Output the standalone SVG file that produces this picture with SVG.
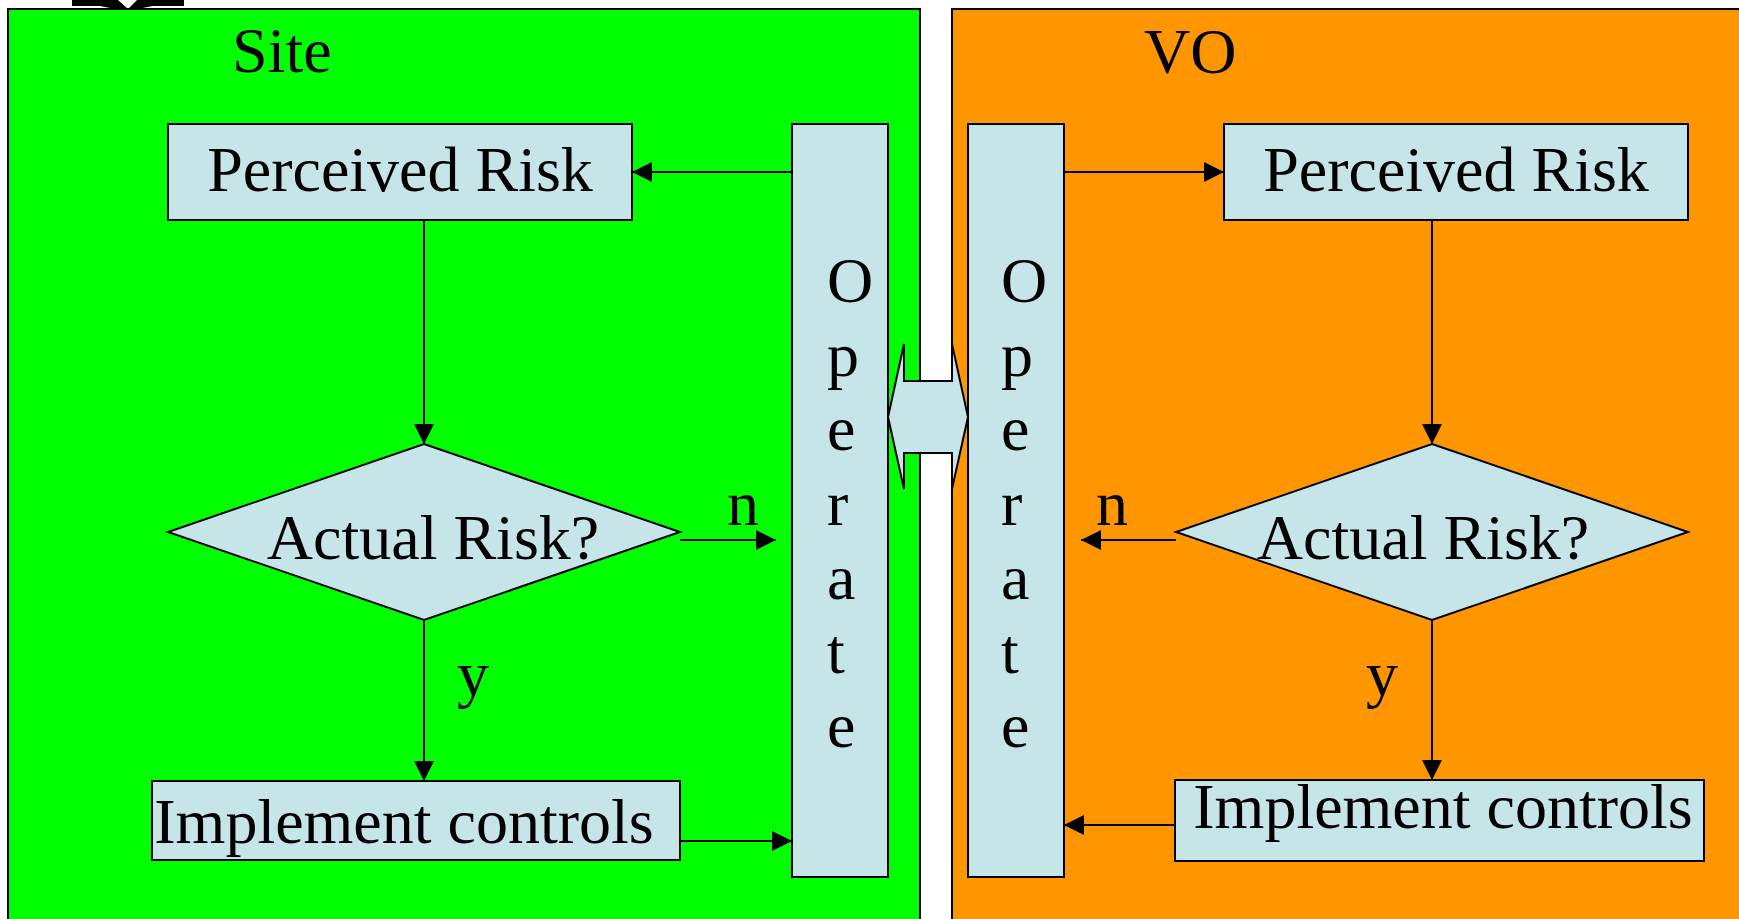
<svg xmlns="http://www.w3.org/2000/svg" width="1739" height="919" viewBox="0 0 1739 919">
<defs>
<marker id="ah" viewBox="0 0 20 20" refX="20" refY="10" markerWidth="20" markerHeight="20" markerUnits="userSpaceOnUse" orient="auto">
<path d="M0,0 L20,10 L0,20 Z" fill="#000"/>
</marker>
<style>
.t{font-family:"Liberation Serif","Times New Roman",serif;font-size:64px;fill:#000}
.box{fill:#C6E5E9;stroke:#000;stroke-width:2}
.panel{stroke:#000;stroke-width:2}
.c{stroke:#000;stroke-width:2;fill:none;marker-end:url(#ah)}
</style>
</defs>
<rect width="1739" height="919" fill="#fff"/>
<path d="M72,0 L184,0 L184,6 L153,6 L137,9 L128,9 L137,0 L118,0 L128,9 L115,9 L100,6 L72,6 Z" fill="#000"/>
<g id="site-panel">
<rect class="panel" x="8" y="9" width="912" height="930" fill="#00FF00"/>
<text class="t" x="232" y="72">Site</text>
</g>
<g id="vo-panel">
<rect class="panel" x="952" y="9" width="800" height="930" fill="#FF9600"/>
<text class="t" x="1144" y="73">VO</text>
</g>
<g id="site-perceived">
<rect class="box" x="168" y="124" width="464" height="96"/>
<text class="t" x="400" y="191" text-anchor="middle">Perceived Risk</text>
</g>
<g id="site-actual">
<polygon class="box" points="424,444 680,532 424,620 168,532"/>
<text class="t" x="433" y="559" text-anchor="middle">Actual Risk?</text>
</g>
<g id="site-implement">
<rect class="box" x="152" y="781" width="528" height="79"/>
<text class="t" x="404" y="843" text-anchor="middle">Implement controls</text>
</g>
<g id="site-operate">
<rect class="box" x="792" y="124" width="96" height="753"/>
<text class="t" x="827" y="302">O</text>
<text class="t" x="827" y="376">p</text>
<text class="t" x="827" y="450">e</text>
<text class="t" x="827" y="525">r</text>
<text class="t" x="827" y="599">a</text>
<text class="t" x="827" y="673">t</text>
<text class="t" x="827" y="747">e</text>
</g>
<g id="vo-operate">
<rect class="box" x="968" y="124" width="96" height="753"/>
<text class="t" x="1001" y="302">O</text>
<text class="t" x="1001" y="376">p</text>
<text class="t" x="1001" y="450">e</text>
<text class="t" x="1001" y="525">r</text>
<text class="t" x="1001" y="599">a</text>
<text class="t" x="1001" y="673">t</text>
<text class="t" x="1001" y="747">e</text>
</g>
<g id="vo-perceived">
<rect class="box" x="1224" y="124" width="464" height="96"/>
<text class="t" x="1456" y="191" text-anchor="middle">Perceived Risk</text>
</g>
<g id="vo-actual">
<polygon class="box" points="1432,444 1688,532 1432,620 1176,532"/>
<text class="t" x="1423" y="559" text-anchor="middle">Actual Risk?</text>
</g>
<g id="vo-implement">
<rect class="box" x="1175" y="780" width="529" height="81"/>
<text class="t" x="1443" y="828" text-anchor="middle">Implement controls</text>
</g>
<g id="exchange">
<polygon class="box" points="888,417 904,344 904,381 952,381 952,344 968,417 952,489 952,453 904,453 904,489"/>
</g>
<g id="connectors">
<line class="c" x1="792" y1="172" x2="632" y2="172"/>
<line class="c" x1="424" y1="220" x2="424" y2="444"/>
<line class="c" x1="424" y1="620" x2="424" y2="781"/>
<line class="c" x1="680" y1="540" x2="776" y2="540"/>
<line class="c" x1="680" y1="841" x2="792" y2="841"/>
<line class="c" x1="1064" y1="172" x2="1224" y2="172"/>
<line class="c" x1="1432" y1="220" x2="1432" y2="444"/>
<line class="c" x1="1432" y1="620" x2="1432" y2="780"/>
<line class="c" x1="1176" y1="540" x2="1081" y2="540"/>
<line class="c" x1="1175" y1="825" x2="1064" y2="825"/>
</g>
<g id="labels">
<text class="t" x="727" y="525">n</text>
<text class="t" x="1096" y="525">n</text>
<text class="t" x="457" y="695">y</text>
<text class="t" x="1366" y="695">y</text>
</g>
</svg>
